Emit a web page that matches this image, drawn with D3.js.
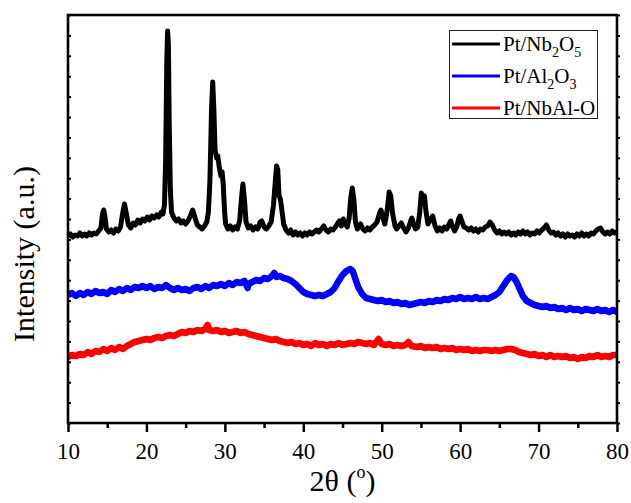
<!DOCTYPE html>
<html>
<head>
<meta charset="utf-8">
<script src="https://cdn.jsdelivr.net/npm/d3@7/dist/d3.min.js"></script>
<style>
  html, body { margin: 0; padding: 0; background: #fff; }
  svg { display: block; font-family: "Liberation Serif", "Times New Roman", serif; }
</style>
</head>
<body>
<svg id="chart" width="631" height="503"></svg>
<script>
// XRD patterns, [2θ (deg), intensity (a.u., offset stacked)]
const nb2o5 = [
  [10.0,187],[10.3,189],[10.6,186],[10.9,188],[11.2,187],[11.5,190],[11.8,187],[12.1,189],[12.4,187],[12.7,190],
  [13.0,188],[13.3,190],[13.6,189],[13.9,192],[14.2,195],[14.4,209],[14.55,213],[14.7,207],[14.9,194],[15.2,191],
  [15.5,193],[15.8,190],[16.1,194],[16.4,192],[16.7,196],[16.95,209],[17.2,219],[17.45,209],[17.7,198],[18.0,195],
  [18.3,200],[18.6,198],[18.9,203],[19.2,200],[19.5,204],[19.8,202],[20.1,206],[20.4,203],[20.7,207],[21.0,205],
  [21.3,208],[21.6,206],[21.9,211],[22.1,209],[22.3,218],[22.45,263],[22.6,363],[22.7,392],[22.8,378],[22.9,303],
  [23.05,233],[23.2,211],[23.5,205],[23.8,202],[24.1,204],[24.4,200],[24.7,202],[25.0,199],[25.3,202],[25.6,207],
  [25.9,213],[26.2,205],[26.5,198],[26.8,196],[27.1,194],[27.4,197],[27.7,201],[27.9,211],[28.1,243],[28.3,313],
  [28.45,341],[28.6,313],[28.75,273],[28.95,265],[29.1,267],[29.3,255],[29.5,247],[29.65,251],[29.8,238],[29.95,213],
  [30.1,199],[30.4,194],[30.7,197],[31.0,193],[31.3,196],[31.6,194],[31.9,203],[32.1,223],[32.3,239],[32.5,223],
  [32.7,201],[33.0,195],[33.3,197],[33.6,193],[33.9,196],[34.2,194],[34.5,201],[34.7,202],[35.0,196],[35.3,194],
  [35.6,197],[35.9,201],[36.2,218],[36.45,243],[36.6,257],[36.75,253],[36.9,228],[37.1,223],[37.3,211],[37.5,199],
  [37.8,193],[38.1,190],[38.4,193],[38.7,188],[39.0,191],[39.3,188],[39.6,190],[39.9,187],[40.2,190],[40.5,188],
  [40.8,191],[41.1,189],[41.4,191],[41.7,193],[42.0,191],[42.3,194],[42.6,197],[42.9,193],[43.2,191],[43.5,194],
  [43.8,193],[44.1,196],[44.4,200],[44.6,202],[44.85,197],[45.1,204],[45.35,199],[45.6,196],[45.85,205],[46.05,225],
  [46.25,235],[46.45,223],[46.65,201],[46.9,194],[47.1,197],[47.3,199],[47.6,194],[47.9,192],[48.2,195],[48.5,193],
  [48.8,196],[49.1,198],[49.4,201],[49.7,209],[49.9,213],[50.1,207],[50.4,199],[50.7,213],[50.95,231],[51.15,227],
  [51.4,209],[51.7,197],[51.9,194],[52.2,197],[52.5,200],[52.8,195],[53.1,191],[53.4,195],[53.7,202],[53.85,205],
  [54.0,201],[54.3,194],[54.6,196],[54.85,211],[55.05,230],[55.25,225],[55.45,227],[55.65,211],[55.9,199],[56.2,203],
  [56.5,207],[56.8,197],[57.1,192],[57.4,195],[57.7,192],[58.0,196],[58.3,194],[58.6,199],[58.8,202],[59.0,197],
  [59.3,192],[59.6,197],[59.8,204],[60.0,207],[60.2,202],[60.5,196],[60.8,195],[61.1,193],[61.4,195],[61.7,192],
  [62.0,194],[62.3,191],[62.6,194],[62.9,193],[63.2,196],[63.5,197],[63.8,201],[64.1,198],[64.4,193],[64.7,190],
  [65.0,192],[65.3,189],[65.6,191],[65.9,189],[66.2,191],[66.5,188],[66.8,190],[67.1,188],[67.4,191],[67.7,189],
  [68.0,192],[68.3,189],[68.6,191],[68.9,188],[69.2,190],[69.5,189],[69.8,192],[70.1,190],[70.4,193],[70.7,195],
  [71.0,198],[71.3,193],[71.6,190],[71.9,191],[72.2,188],[72.5,190],[72.8,187],[73.1,189],[73.4,186],[73.7,189],
  [74.0,187],[74.3,188],[74.6,186],[74.9,189],[75.2,187],[75.5,190],[75.8,187],[76.1,189],[76.4,187],[76.7,190],
  [77.0,189],[77.3,192],[77.6,194],[77.9,195],[78.2,191],[78.5,189],[78.8,191],[79.1,189],[79.4,192],[79.7,190],
  [80.0,191]
];

const al2o3 = [
  [10.0,128],[10.5,130],[11.0,127],[11.5,130],[12.0,128],[12.5,131],[13.0,129],[13.5,132],[14.0,130],[14.5,131],
  [15.0,129],[15.5,133],[16.0,131],[16.5,134],[17.0,132],[17.5,135],[18.0,133],[18.5,136],[19.0,135],[19.5,137],
  [20.0,135],[20.5,137],[21.0,134],[21.5,136],[22.0,135],[22.5,138],[23.0,135],[23.5,133],[24.0,135],[24.5,133],
  [25.0,134],[25.5,132],[26.0,135],[26.5,136],[27.0,134],[27.5,137],[28.0,135],[28.5,138],[29.0,137],[29.5,139],
  [30.0,137],[30.5,140],[31.0,138],[31.5,141],[32.0,140],[32.5,142],[32.9,135],[33.0,139],[33.5,141],[34.0,143],
  [34.5,142],[35.0,145],[35.5,144],[36.0,147],[36.3,150],[36.6,146],[37.0,147],[37.5,145],[38.0,144],[38.5,142],
  [39.0,139],[39.5,135],[40.0,131],[40.5,129],[41.0,128],[41.5,127],[42.0,128],[42.5,127],[43.0,129],[43.5,131],
  [44.0,135],[44.5,142],[45.0,148],[45.5,152],[46.0,154],[46.3,152],[46.6,145],[47.0,136],[47.5,129],[48.0,125],
  [48.5,124],[49.0,123],[49.5,122],[50.0,123],[50.5,121],[51.0,122],[51.5,120],[52.0,121],[52.5,119],[53.0,120],
  [53.5,118],[54.0,119],[54.5,120],[55.0,121],[55.5,120],[56.0,122],[56.5,121],[57.0,123],[57.5,122],[58.0,124],
  [58.5,123],[59.0,125],[59.5,124],[60.0,126],[60.5,124],[61.0,125],[61.5,124],[62.0,126],[62.5,124],[63.0,125],
  [63.5,124],[64.0,126],[64.5,128],[65.0,131],[65.5,137],[66.0,143],[66.5,147],[66.8,146],[67.2,141],[67.6,134],
  [68.0,127],[68.5,122],[69.0,120],[69.5,118],[70.0,117],[70.5,116],[71.0,117],[71.5,115],[72.0,116],[72.5,114],
  [73.0,115],[73.5,113],[74.0,115],[74.5,113],[75.0,114],[75.5,112],[76.0,114],[76.5,113],[77.0,112],[77.5,114],
  [78.0,112],[78.5,113],[79.0,111],[79.5,113],[80.0,111]
];

const nbalo = [
  [10.0,66],[10.5,68],[11.0,67],[11.5,69],[12.0,68],[12.5,71],[13.0,69],[13.5,72],[14.0,71],[14.5,74],
  [15.0,72],[15.5,75],[16.0,73],[16.5,76],[17.0,74],[17.5,77],[18.0,79],[18.5,81],[19.0,82],[19.5,83],
  [20.0,84],[20.5,83],[21.0,85],[21.5,86],[22.0,85],[22.5,87],[23.0,88],[23.5,87],[24.0,89],[24.5,91],
  [25.0,90],[25.5,92],[26.0,91],[26.5,93],[27.0,92],[27.5,94],[27.8,98],[28.0,93],[28.5,92],[29.0,93],
  [29.5,91],[30.0,92],[30.5,90],[31.0,91],[31.5,92],[32.0,90],[32.5,91],[33.0,89],[33.5,88],[34.0,87],
  [34.5,86],[35.0,85],[35.5,84],[36.0,83],[36.5,84],[37.0,82],[37.5,81],[38.0,80],[38.5,81],[39.0,79],
  [39.5,80],[40.0,78],[40.5,79],[41.0,77],[41.5,80],[42.0,78],[42.5,79],[43.0,77],[43.5,79],[44.0,78],
  [44.5,80],[45.0,78],[45.5,79],[46.0,80],[46.5,79],[47.0,81],[47.5,80],[48.0,79],[48.5,80],[49.0,78],
  [49.6,84],[50.0,79],[50.5,78],[51.0,79],[51.5,77],[52.0,78],[52.5,77],[53.0,78],[53.4,81],[53.8,77],
  [54.5,76],[55.0,77],[55.5,75],[56.0,76],[56.5,75],[57.0,76],[57.5,74],[58.0,75],[58.5,74],[59.0,75],
  [59.5,73],[60.0,74],[60.5,73],[61.0,74],[61.5,72],[62.0,73],[62.5,72],[63.0,73],[63.5,73],[64.0,72],
  [64.5,73],[65.0,72],[65.5,73],[66.0,74],[66.5,74],[67.0,73],[67.5,71],[68.0,70],[68.5,69],[69.0,68],
  [69.5,69],[70.0,67],[70.5,68],[71.0,66],[71.5,68],[72.0,66],[72.5,67],[73.0,66],[73.5,67],[74.0,65],
  [74.5,66],[75.0,64],[75.5,66],[76.0,65],[76.5,67],[77.0,66],[77.5,68],[78.0,66],[78.5,67],[79.0,66],
  [79.5,68],[80.0,68]
];

const seriesNames  = ["Pt/Nb2O5", "Pt/Al2O3", "Pt/NbAl-O"];
const seriesColors = ["#000000", "#0000ff", "#ff0000"];
const xTicksMajor  = [10, 20, 30, 40, 50, 60, 70, 80];
const xTicksMinor  = [15, 25, 35, 45, 55, 65, 75];
const xDomain = [10, 80];
const yDomain = [0, 408];
const yTickCount = 20;

const svg = d3.select("#chart");
const plot = { left: 68, right: 617, top: 15, bottom: 423 };

const x = d3.scaleLinear().domain(xDomain).range([plot.left, plot.right]);
const y = d3.scaleLinear().domain(yDomain).range([plot.bottom, plot.top]);

// traces (wide strokes give the noisy scan its band-like look)
const line = d3.line().x(d => x(d[0])).y(d => y(d[1]));
const data = [nb2o5, al2o3, nbalo];
const widths = [5, 6.5, 6.5];
data.forEach((s, i) => {
  svg.append("path")
    .datum(s)
    .attr("fill", "none")
    .attr("stroke", seriesColors[i])
    .attr("stroke-width", widths[i])
    .attr("stroke-linejoin", "round")
    .attr("stroke-linecap", "butt")
    .attr("d", line);
});

// y ticks (no labels)
const yTicks = d3.range(0, yTickCount + 1).map(i => yDomain[0] + (yDomain[1] - yDomain[0]) * i / yTickCount);
svg.append("g")
  .attr("transform", `translate(${plot.left},0)`)
  .call(d3.axisLeft(y).tickValues(yTicks).tickSize(-3).tickSizeOuter(0).tickFormat(""))
  .call(g => g.select(".domain").remove())
  .call(g => g.selectAll("line").attr("stroke", "#000").attr("stroke-width", 2));
svg.append("g")
  .attr("transform", `translate(${plot.right},0)`)
  .call(d3.axisRight(y).tickValues(yTicks).tickSize(3).tickSizeOuter(0).tickFormat(""))
  .call(g => g.select(".domain").remove())
  .call(g => g.selectAll("line").attr("stroke", "#000").attr("stroke-width", 2));

// x minor ticks
svg.append("g")
  .attr("transform", `translate(0,${plot.bottom})`)
  .call(d3.axisBottom(x).tickValues(xTicksMinor).tickSize(5).tickSizeOuter(0).tickFormat(""))
  .call(g => g.select(".domain").remove())
  .call(g => g.selectAll("line").attr("stroke", "#000").attr("stroke-width", 2.5));

// x major ticks + labels
svg.append("g")
  .attr("transform", `translate(0,${plot.bottom})`)
  .call(d3.axisBottom(x).tickValues(xTicksMajor).tickSize(9).tickSizeOuter(0).tickPadding(11).tickFormat(d3.format("d")))
  .call(g => g.select(".domain").remove())
  .call(g => g.selectAll("line").attr("stroke", "#000").attr("stroke-width", 2.5))
  .call(g => g.selectAll("text")
    .attr("fill", "#000")
    .style("font-family", "'Liberation Serif', serif")
    .style("font-size", "23px"));

// frame
svg.append("rect")
  .attr("x", plot.left).attr("y", plot.top)
  .attr("width", plot.right - plot.left).attr("height", plot.bottom - plot.top)
  .attr("fill", "none").attr("stroke", "#000").attr("stroke-width", 2.6);

// axis titles
const xt = svg.append("text")
  .attr("x", (plot.left + plot.right) / 2).attr("y", 491)
  .attr("text-anchor", "middle")
  .style("font-size", "30px").attr("fill", "#000");
xt.append("tspan").text("2θ (");
xt.append("tspan").attr("dy", -13).style("font-size", "18px").text("o");
xt.append("tspan").attr("dy", 13).text(")");

svg.append("text")
  .attr("transform", "translate(34,254) rotate(-90)")
  .attr("text-anchor", "middle")
  .style("font-size", "30px").attr("fill", "#000")
  .text("Intensity (a.u.)");

// legend
const lg = svg.append("g");
lg.append("rect")
  .attr("x", 449.5).attr("y", 30.5).attr("width", 148).attr("height", 88)
  .attr("fill", "#fff").attr("stroke", "#222").attr("stroke-width", 1);
const rowsY = [44, 76, 108];
const labelParts = [
  [["Pt/Nb", 0], ["2", 1], ["O", 0], ["5", 1]],
  [["Pt/Al", 0], ["2", 1], ["O", 0], ["3", 1]],
  [["Pt/NbAl-O", 0]]
];
seriesNames.forEach((name, i) => {
  lg.append("line")
    .attr("x1", 452).attr("x2", 500)
    .attr("y1", rowsY[i]).attr("y2", rowsY[i])
    .attr("stroke", seriesColors[i]).attr("stroke-width", 3);
  const t = lg.append("text")
    .attr("x", 503).attr("y", rowsY[i] + 7)
    .style("font-size", "21px").attr("fill", "#000");
  let shifted = false;
  labelParts[i].forEach(([s, sub]) => {
    const ts = t.append("tspan").text(s);
    if (sub && !shifted) { ts.attr("dy", 6).style("font-size", "14px"); shifted = true; }
    else if (!sub && shifted) { ts.attr("dy", -6); shifted = false; }
    else if (sub) { ts.style("font-size", "14px"); }
  });
});
</script>
</body>
</html>
